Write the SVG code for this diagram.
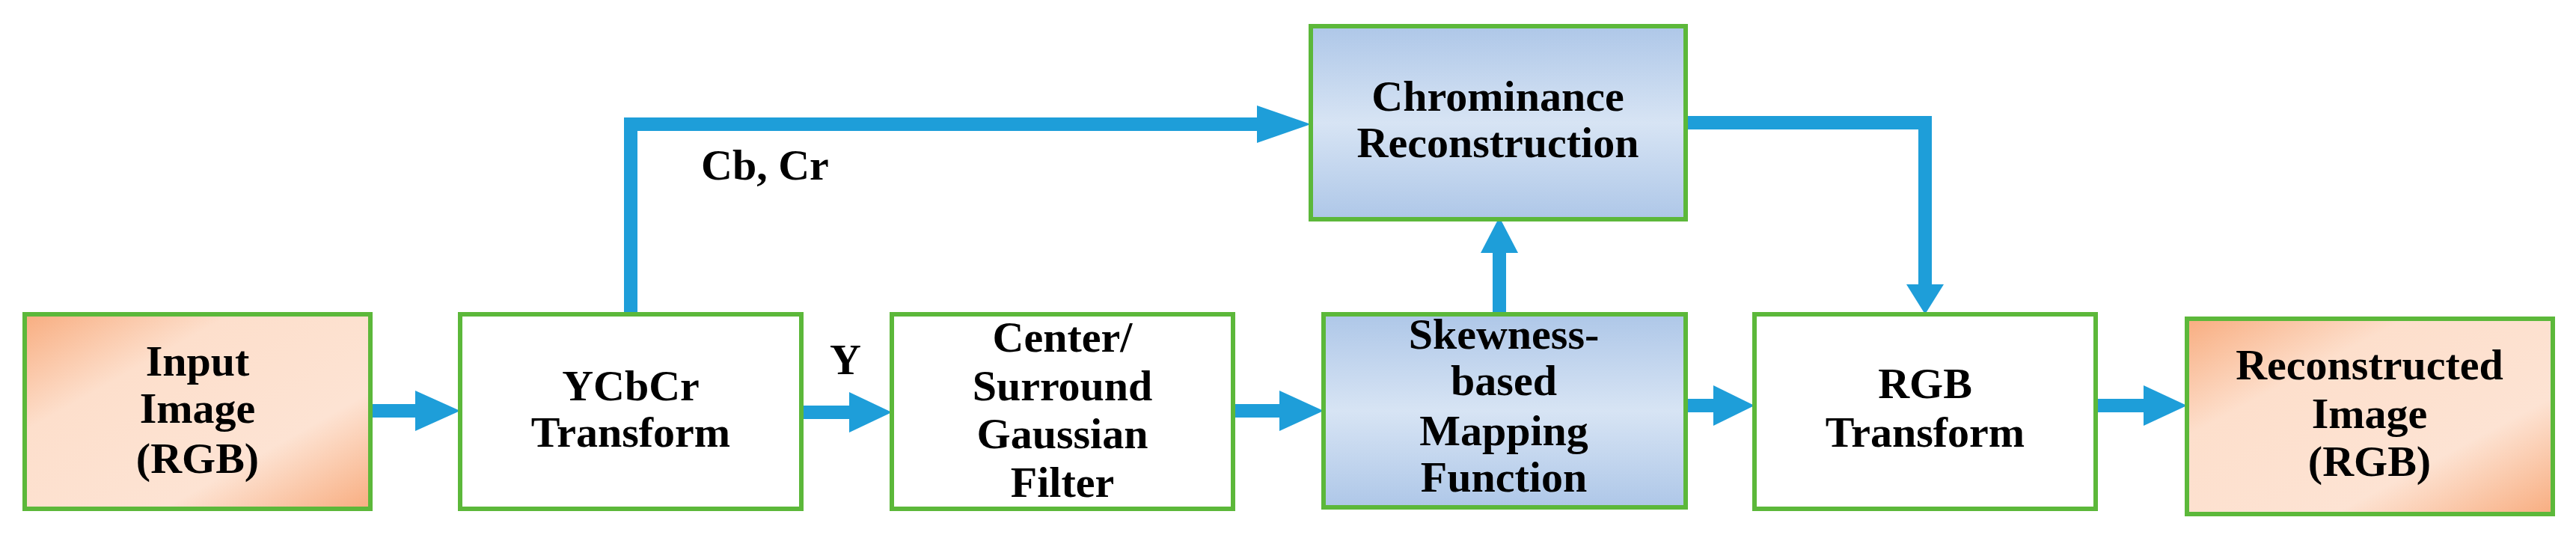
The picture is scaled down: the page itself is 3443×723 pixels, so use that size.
<svg xmlns="http://www.w3.org/2000/svg" width="3443" height="723" viewBox="0 0 3443 723">
<defs>
<linearGradient id="og" x1="0" y1="0" x2="1" y2="1"><stop offset="0" stop-color="#F8AD80"/><stop offset="0.3" stop-color="#FDDFCC"/><stop offset="0.7" stop-color="#FDE3D3"/><stop offset="1" stop-color="#F8AD80"/></linearGradient>
<linearGradient id="bg" x1="0" y1="0" x2="0" y2="1"><stop offset="0" stop-color="#AEC7E8"/><stop offset="0.5" stop-color="#D7E4F4"/><stop offset="1" stop-color="#AEC7E8"/></linearGradient>
<style>
.box{stroke:#5CB83A;stroke-width:6}
.t{font-family:"Liberation Serif",serif;font-weight:bold;font-size:58px;fill:#000;text-anchor:middle}
.c{stroke:#1E9ED9;fill:none;stroke-width:18}
.h{fill:#1E9ED9}
</style>
</defs>
<g id="connectors">
<path class="c" d="M495 549H560"/><polygon class="h" points="555,522 615,549 555,576"/>
<path class="c" d="M1071 551H1140"/><polygon class="h" points="1135,524 1192,551 1135,578"/>
<path class="c" d="M1648 549H1715"/><polygon class="h" points="1710,522 1769,549 1710,576"/>
<path class="c" d="M2253 542H2295"/><polygon class="h" points="2290,515 2345,542 2290,569"/>
<path class="c" d="M2801 542H2870"/><polygon class="h" points="2865,515 2923,542 2865,569"/>
<path class="c" d="M843 420V166H1690"/><polygon class="h" points="1680,141 1752,166 1680,191"/>
<path class="c" d="M2004 420V330"/><polygon class="h" points="1979,338 2004,290 2029,338"/>
<path class="c" d="M2223 164H2573V385"/><polygon class="h" points="2548,380 2573,420 2598,380"/>
</g>
<g id="input"><rect class="box" x="33" y="420" width="462" height="260" fill="url(#og)"/>
<text class="t" x="264" y="502">Input</text><text class="t" x="264" y="565">Image</text><text class="t" x="264" y="632">(RGB)</text></g>
<g id="ycbcr"><rect class="box" x="615" y="420" width="456" height="260" fill="#fff"/>
<text class="t" x="843" y="535">YCbCr</text><text class="t" x="843" y="597">Transform</text></g>
<text class="t" x="937" y="240" text-anchor="start" style="text-anchor:start">Cb, Cr</text>
<text class="t" x="1130" y="500">Y</text>
<g id="center"><rect class="box" x="1192" y="420" width="456" height="260" fill="#fff"/>
<text class="t" x="1420" y="470">Center/</text><text class="t" x="1420" y="535">Surround</text><text class="t" x="1420" y="599">Gaussian</text><text class="t" x="1420" y="664">Filter</text></g>
<g id="chroma"><rect class="box" x="1752" y="35" width="501" height="258" fill="url(#bg)"/>
<text class="t" x="2002" y="148">Chrominance</text><text class="t" x="2002" y="210">Reconstruction</text></g>
<g id="skew"><rect class="box" x="1769" y="420" width="484" height="258" fill="url(#bg)"/>
<text class="t" x="2010" y="466">Skewness-</text><text class="t" x="2010" y="528">based</text><text class="t" x="2010" y="595">Mapping</text><text class="t" x="2010" y="657">Function</text></g>
<g id="rgb"><rect class="box" x="2345" y="420" width="456" height="260" fill="#fff"/>
<text class="t" x="2573" y="532">RGB</text><text class="t" x="2573" y="597">Transform</text></g>
<g id="recon"><rect class="box" x="2923" y="426" width="489" height="261" fill="url(#og)"/>
<text class="t" x="3167" y="507">Reconstructed</text><text class="t" x="3167" y="572">Image</text><text class="t" x="3167" y="636">(RGB)</text></g>
</svg>
